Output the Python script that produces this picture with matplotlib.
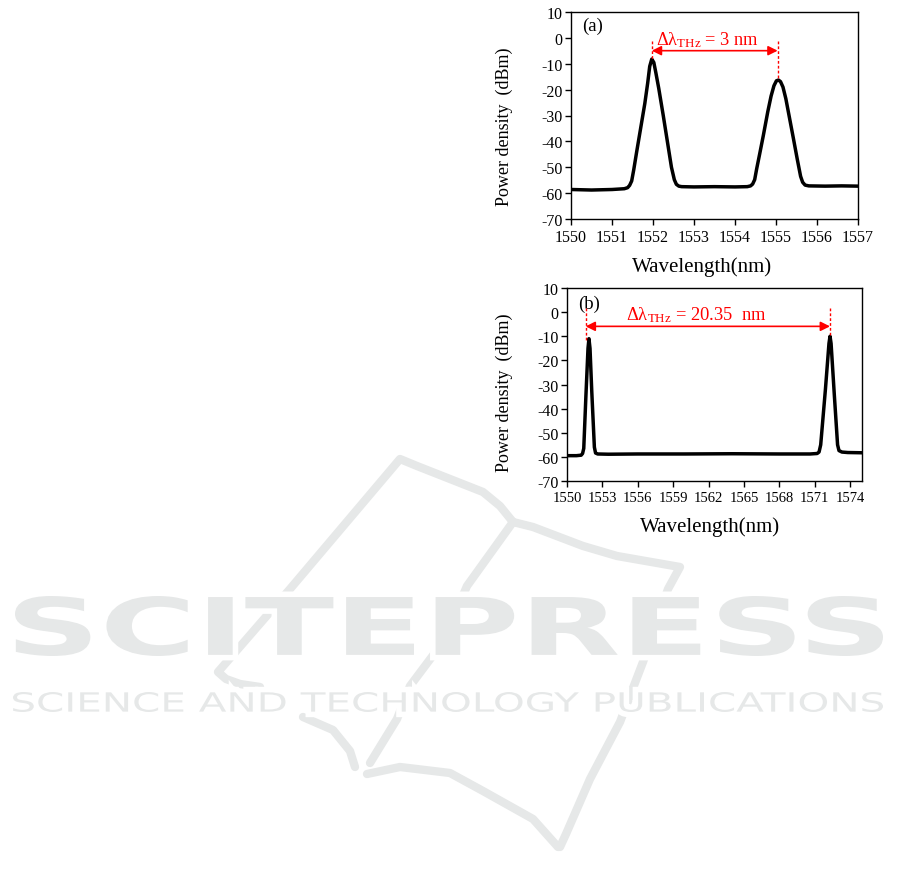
import matplotlib
matplotlib.use("Agg")
import matplotlib.pyplot as plt
import matplotlib.transforms as mtrans
from matplotlib.textpath import TextPath
from matplotlib.font_manager import FontProperties
from matplotlib.patches import PathPatch

plt.rcParams['font.family'] = ['Liberation Serif', 'DejaVu Serif']
plt.rcParams['mathtext.fontset'] = 'custom'
plt.rcParams['mathtext.rm'] = 'Liberation Serif'
plt.rcParams['mathtext.it'] = 'Liberation Serif:italic'
plt.rcParams['axes.unicode_minus'] = False

# ---------------- data ----------------
wl_a = [1550.0, 1550.5, 1551.0, 1551.3, 1551.38, 1551.43, 1551.48, 1551.53, 1551.6, 1551.7,
        1551.8, 1551.87, 1551.92, 1551.97, 1552.02, 1552.07, 1552.14, 1552.25, 1552.35,
        1552.45, 1552.52, 1552.57, 1552.63, 1552.7, 1553.0, 1553.5, 1554.0, 1554.3,
        1554.38, 1554.43, 1554.48, 1554.53, 1554.6, 1554.69, 1554.8, 1554.88, 1554.95,
        1555.01, 1555.06, 1555.11, 1555.17, 1555.24, 1555.33, 1555.42, 1555.52, 1555.6,
        1555.65, 1555.71, 1555.8, 1556.2, 1556.6, 1557.0]
pw_a = [-58.6, -58.8, -58.6, -58.3, -57.9, -57.0, -55.3, -51.0, -44.2, -34.8,
        -25.4, -17.5, -11.0, -8.2, -9.5, -13.5, -19.5, -30.0, -40.0,
        -50.0, -54.8, -56.6, -57.3, -57.5, -57.6, -57.5, -57.6, -57.5,
        -57.2, -56.5, -54.8, -50.5, -45.0, -37.8, -28.5, -22.5, -18.5,
        -16.6, -16.3, -16.9, -19.0, -23.5, -31.0, -38.5, -47.0, -53.5,
        -55.8, -56.9, -57.2, -57.3, -57.2, -57.3]

wl_b = [1550.0, 1550.8, 1551.2, 1551.32, 1551.42, 1551.6, 1551.78, 1551.86, 1551.95,
        1552.1, 1552.32, 1552.42, 1552.6, 1553.5, 1556.0, 1560.0, 1564.0, 1568.0,
        1570.6, 1571.2, 1571.36, 1571.5, 1571.9, 1572.2, 1572.29, 1572.38, 1572.65,
        1572.93, 1573.05, 1573.3, 1573.8, 1575.0]
pw_b = [-59.5, -59.5, -59.3, -58.6, -56.5, -35.0, -15.0, -11.0, -15.0,
        -33.0, -56.0, -58.4, -58.8, -58.9, -58.8, -58.8, -58.7, -58.8,
        -58.8, -58.6, -58.0, -55.0, -32.0, -13.0, -10.0, -13.0, -34.0,
        -55.0, -57.4, -58.0, -58.2, -58.3]

yticks = [-70, -60, -50, -40, -30, -20, -10, 0, 10]
xticks_a = [1550, 1551, 1552, 1553, 1554, 1555, 1556, 1557]
xticks_b = [1550, 1553, 1556, 1559, 1562, 1565, 1568, 1571, 1574]

# annotation values
peaks_a = [1551.97, 1555.04]
label_a = r'Δλ$_{\mathrm{THz}}$ = 3 nm'
peaks_b = [1551.58, 1572.29]
label_b = r'Δλ$_{\mathrm{THz}}$ = 20.35  nm'

W, H = 901, 887
fig = plt.figure(figsize=(W / 100, H / 100), dpi=100)

# ---------------- watermark (background) ----------------
bg = fig.add_axes([0, 0, 1, 1], zorder=0)
bg.set_xlim(0, W)
bg.set_ylim(H, 0)
bg.axis('off')
wm = '#e6e8e8'

book_lines = [
    [(260, 688), (240, 685), (226, 680), (218, 673), (290, 590), (400, 460),
     (417, 467), (450, 480), (483, 493), (500, 507), (513, 523)],
    [(513, 523), (533, 528), (583, 547), (617, 557), (680, 568), (668, 590),
     (643, 663), (620, 723), (590, 780), (566, 835), (560, 848)],
    [(513, 523), (467, 587), (443, 643), (410, 687), (397, 720), (370, 764)],
    [(303, 718), (333, 731), (350, 752), (355, 768)],
    [(367, 775), (400, 768), (450, 774), (483, 792), (533, 820), (558, 848)],
]
for pts in book_lines:
    xs = [p[0] for p in pts]
    ys = [p[1] for p in pts]
    bg.plot(xs, ys, color=wm, lw=6.0, solid_capstyle='round',
            solid_joinstyle='round', zorder=1)


def fit_text(s, x0, y0, x1, y1, fp):
    tp = TextPath((0, 0), s, prop=fp, size=100)
    bb = tp.get_extents()
    sx = (x1 - x0) / bb.width
    sy = (y1 - y0) / bb.height
    tr = (mtrans.Affine2D().translate(-bb.x0, -bb.y0)
          .scale(sx, -sy).translate(x0, y1))
    path = tr.transform_path(tp)
    bg.add_patch(PathPatch(path, fc='white', ec='white', lw=8, zorder=2))
    bg.add_patch(PathPatch(path, fc=wm, ec='none', zorder=3))


fit_text('SCITEPRESS', 15, 597, 883, 657,
         FontProperties(family='DejaVu Sans', weight='bold'))
fit_text('SCIENCE AND TECHNOLOGY PUBLICATIONS', 13, 693, 883, 713,
         FontProperties(family='DejaVu Sans', weight='normal'))


# ---------------- charts ----------------
def style_axes(ax, xticks, xsize):
    ax.set_facecolor('none')
    ax.set_yticks(yticks)
    ax.set_xticks(xticks)
    ax.set_ylim(-70, 10)
    ax.tick_params(axis='both', direction='out', length=4, width=1, color='black')
    ax.tick_params(axis='y', labelsize=11.5, pad=2)
    ax.tick_params(axis='x', labelsize=xsize, pad=3)
    for sp in ax.spines.values():
        sp.set_linewidth(1.0)
        sp.set_color('black')


def annotate(ax, peaks, y_top, y_bot, y_arrow, text, tx, ty, fs):
    for px, yb in zip(peaks, y_bot):
        ax.plot([px, px], [y_top, yb], color='red', lw=1.0, ls=(0, (2, 1.5)), zorder=3)
    ax.annotate('', xy=(peaks[0], y_arrow), xytext=(peaks[1], y_arrow),
                arrowprops=dict(arrowstyle='<|-|>', color='red', lw=1.2,
                                mutation_scale=14, shrinkA=0, shrinkB=0), zorder=3)
    ax.text(tx, ty, text, color='red', fontsize=fs, ha='center', va='center', zorder=4)


# (a)
ax1 = fig.add_axes([571 / W, 1 - 220 / H, 287 / W, 207 / H], zorder=1)
ax1.plot(wl_a, pw_a, color='black', lw=2.5, solid_joinstyle='round', zorder=2)
ax1.set_xlim(1550, 1557)
style_axes(ax1, xticks_a, 11.5)
ax1.set_xlabel('Wavelength(nm)', fontsize=15)
ax1.set_ylabel('Power density  (dBm)', fontsize=13)
ax1.xaxis.set_label_coords(0.455, -0.179)
ax1.yaxis.set_label_coords(-0.202, 0.45)
ax1.text(1550.28, 5.0, '(a)', fontsize=13.5, ha='left', va='center')
annotate(ax1, peaks_a, -1.1, [-8.2, -16.3], -4.95, label_a, 1553.33, -0.4, 13.2)

# (b)
ax2 = fig.add_axes([567 / W, 1 - 482 / H, 295 / W, 193 / H], zorder=1)
ax2.plot(wl_b, pw_b, color='black', lw=2.5, solid_joinstyle='round', zorder=2)
ax2.set_xlim(1550, 1575)
style_axes(ax2, xticks_b, 10.5)
ax2.set_xlabel('Wavelength(nm)', fontsize=15)
ax2.set_ylabel('Power density  (dBm)', fontsize=13)
ax2.xaxis.set_label_coords(0.486, -0.181)
ax2.yaxis.set_label_coords(-0.183, 0.464)
ax2.text(1550.96, 3.8, '(b)', fontsize=13.5, ha='left', va='center')
annotate(ax2, peaks_b, 1.7, [-11.5, -9.5], -5.9, label_b, 1560.99, -0.9, 13.3)

fig.savefig('out.png', dpi=100, facecolor='white')
